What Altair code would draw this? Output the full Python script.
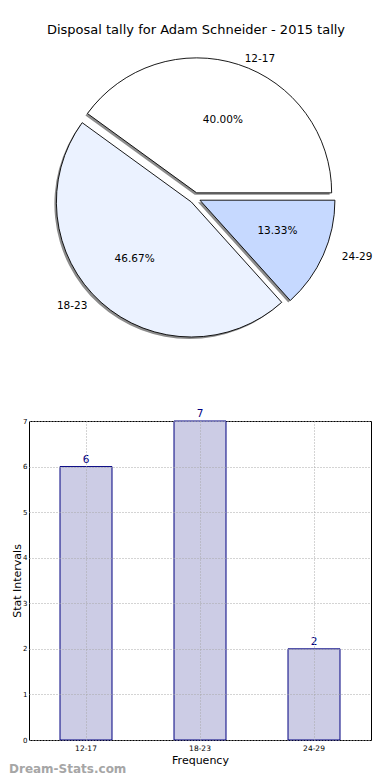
import altair as alt
import pandas as pd

# ---------------- data ----------------
categories = ["12-17", "18-23", "24-29"]
counts = [6, 7, 2]
slice_colors = ["#FFFFFF", "#EBF2FF", "#C6D9FF"]
y_ticks = [0, 1, 2, 3, 4, 5, 6, 7]

TITLE = "Disposal tally for Adam Schneider - 2015 tally"
WATERMARK = "Dream-Stats.com"

df = pd.DataFrame({"cat": categories, "v": counts, "idx": [0, 1, 2], "color": slice_colors})

FONT = "DejaVu Sans"

# ---------------- layout ----------------
OX = 28                 # page x of the panels' left edge
PW = 370 - OX           # panel width
CX, CY = 194 - OX, 198  # pie centre in panel pixels
R = 135                 # wedge radius
RX, RY = 141, 128       # label ellipse radii
EXP = 0.04              # explode fraction

base = (
    alt.Chart(df)
    .transform_joinaggregate(total="sum(v)")
    .transform_window(cum="sum(v)", sort=[alt.SortField("idx")], frame=[None, 0])
    .transform_calculate(
        a0="2*PI*(datum.cum - datum.v)/datum.total",
        a1="2*PI*datum.cum/datum.total",
    )
    .transform_calculate(
        mid="(datum.a0 + datum.a1)/2",
        th="PI/2 - datum.a1",
        th2="PI/2 - datum.a0",
        pct="format(100*datum.v/datum.total, '.2f') + '%'",
    )
    .transform_calculate(
        px=f"{CX} + {EXP * R}*cos(datum.mid)",
        py=f"{CY} - {EXP * R}*sin(datum.mid)",
        lx=f"{CX} + {EXP + 1.1}*{RX}*cos(datum.mid)",
        ly=f"{CY} - {EXP + 1.1}*{RY}*sin(datum.mid)",
        tx=f"{CX} + {EXP + 0.6}*{RX}*cos(datum.mid)",
        ty=f"{CY} - {EXP + 0.6}*{RY}*sin(datum.mid)",
        side="cos(datum.mid) >= 0 ? 'r' : 'l'",
    )
)

arc_enc = dict(
    theta=alt.Theta("th:Q", scale=None),
    theta2=alt.Theta2("th2:Q"),
    x=alt.X("px:Q", scale=None),
    y=alt.Y("py:Q", scale=None),
)

shadow = base.mark_arc(radius=R, fill="#8c8c8c", xOffset=-2, yOffset=2).encode(**arc_enc)
slices = base.mark_arc(radius=R, stroke="black", strokeWidth=0.9).encode(
    color=alt.Color("color:N", scale=None), **arc_enc
)

lab_r = base.transform_filter("datum.side == 'r'").mark_text(
    align="left", baseline="middle", fontSize=10.5, font=FONT, color="black"
).encode(x=alt.X("lx:Q", scale=None), y=alt.Y("ly:Q", scale=None), text="cat:N")
lab_l = base.transform_filter("datum.side == 'l'").mark_text(
    align="right", baseline="middle", fontSize=10.5, font=FONT, color="black"
).encode(x=alt.X("lx:Q", scale=None), y=alt.Y("ly:Q", scale=None), text="cat:N")
pcts = base.mark_text(
    align="center", baseline="middle", fontSize=10.5, font=FONT, color="black"
).encode(x=alt.X("tx:Q", scale=None), y=alt.Y("ty:Q", scale=None), text="pct:N")

title = alt.Chart(alt.Data(values=[{}])).mark_text(
    text=TITLE, align="center", baseline="middle", fontSize=13, font=FONT, color="black"
).encode(x=alt.value(195 - OX), y=alt.value(30))

pie = alt.layer(shadow, slices, lab_r, lab_l, pcts, title).properties(
    width=PW, height=410, view=alt.ViewBackground(strokeWidth=0)
)

# ---------------- bar chart ----------------
grid_kw = dict(grid=True, gridDash=[1, 2], gridColor="#a8a8a8", gridWidth=1)
step = PW / 3.0
p_in = 1 - 52 / step

x_enc = alt.X(
    "cat:N",
    sort=None,
    scale=alt.Scale(paddingInner=p_in, paddingOuter=p_in / 2),
    axis=alt.Axis(
        title="Frequency", titleFontSize=11, titleFont=FONT, titleFontWeight="normal",
        titleColor="black", titlePadding=3,
        labelFontSize=7.5, labelFont=FONT, labelColor="black", labelAngle=0, labelPadding=4,
        ticks=False, domain=False, bandPosition=0.5, zindex=1, **grid_kw,
    ),
)
y_enc = alt.Y(
    "v:Q",
    scale=alt.Scale(domain=[0, 7], nice=False),
    axis=alt.Axis(
        title="Stat Intervals", titleFontSize=11, titleFont=FONT, titleFontWeight="normal",
        titleColor="black", titlePadding=0,
        values=y_ticks, labelFontSize=7, labelFont=FONT, labelColor="black", labelPadding=2,
        ticks=False, domain=False, zindex=1, **grid_kw,
    ),
)

bars = alt.Chart(df).mark_bar(fill="#CCCCE5", stroke="#000080", strokeWidth=1).encode(x=x_enc, y=y_enc)
vals = alt.Chart(df).mark_text(
    baseline="bottom", dy=-2, color="#000080", fontSize=10.5, font=FONT
).encode(x=alt.X("cat:N", sort=None), y="v:Q", text="v:Q")
mark_wm = alt.Chart(alt.Data(values=[{}])).mark_text(
    text=WATERMARK, align="left", baseline="middle", fontSize=12, fontWeight="bold",
    font=FONT, color="#a6a6a6"
).encode(x=alt.value(8 - OX), y=alt.value(348))

bar = alt.layer(bars, vals, mark_wm).properties(
    width=PW, height=319, view=alt.ViewBackground(stroke="black", strokeWidth=1)
)

chart = (
    alt.vconcat(pie, bar, spacing=11, bounds="flush")
    .properties(padding={"left": 0, "top": -8, "right": 0, "bottom": 0})
    .configure(font=FONT)
)

chart.save("out.html", embed_options={"renderer": "svg", "actions": False})
